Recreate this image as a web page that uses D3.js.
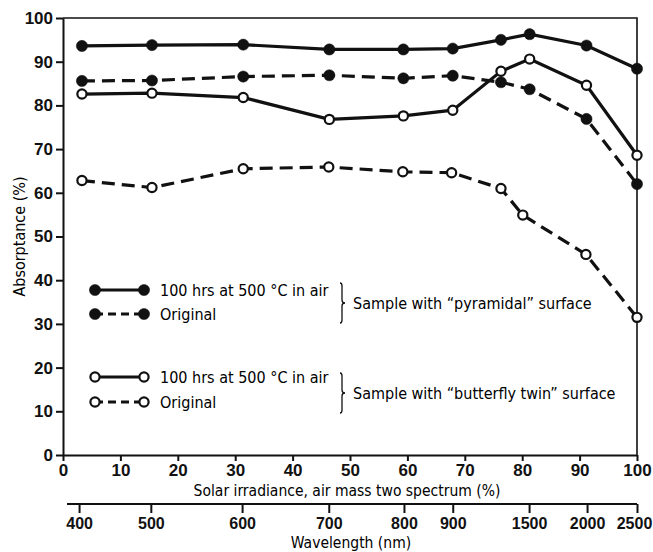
<!DOCTYPE html>
<html>
<head>
<meta charset="utf-8">
<script src="https://cdn.jsdelivr.net/npm/d3@7"></script>
<style>
  body { margin: 0; background: #fff; }
  svg { display: block; }
  .cond { font-family: "Liberation Sans Narrow", "DejaVu Sans Condensed", "Roboto Condensed", sans-serif; }
</style>
</head>
<body>
<div id="chart"></div>
<script>
// solar irradiance (%) at which each measurement sits
var solarPct = [3.3, 15.5, 31.4, 46.4, 59.3, 67.9, 76.3, 81.3, 91.2, 100];
var solarPctButterflyOrig = [3.3, 15.5, 31.4, 46.3, 59.2, 67.7, 76.3, 80.1, 91.1, 100];

// absorptance (%)
var pyramidalHeated = [93.6, 93.8, 93.9, 92.8, 92.8, 93.0, 95.0, 96.3, 93.7, 88.4];
var pyramidalOrig = [85.6, 85.7, 86.6, 86.9, 86.2, 86.8, 85.3, 83.7, 76.9, 62.0];
var butterflyHeated = [82.6, 82.8, 81.8, 76.8, 77.6, 78.9, 87.8, 90.6, 84.6, 68.6];
var butterflyOrig = [62.8, 61.2, 65.5, 65.9, 64.8, 64.6, 61.0, 54.9, 45.9, 31.5];

var yTicks = [0, 10, 20, 30, 40, 50, 60, 70, 80, 90, 100];
var xTicks = [0, 10, 20, 30, 40, 50, 60, 70, 80, 90, 100];
var wavelengthTicks = [400, 500, 600, 700, 800, 900, 1500, 2000, 2500];
var wavelengthPos = [2.8, 15.3, 31.2, 46.3, 59.4, 67.9, 81.2, 91.3, 100];

var legendGroups = [
    {label: 'Sample with \u201Cpyramidal\u201D surface', filled: true},
    {label: 'Sample with \u201Cbutterfly twin\u201D surface', filled: false}
];

var width = 653, height = 552,
    margin = {top: 18, right: 16, bottom: 97, left: 63},
    plotW = width - margin.left - margin.right,
    plotH = height - margin.top - margin.bottom;

var svg = d3.select('#chart').append('svg')
    .attr('width', width)
    .attr('height', height);

var g = svg.append('g')
    .attr('class', 'cond')
    .attr('transform', 'translate(' + margin.left + ',' + margin.top + ')');

var x = d3.scaleLinear().domain([0, 100]).range([0, plotW]);
var y = d3.scaleLinear().domain([0, 100]).range([plotH, 0]);

// frame top + right
g.append('path')
    .attr('d', 'M0,0H' + x(100) + 'V' + y(0))
    .attr('fill', 'none')
    .attr('stroke', '#111')
    .attr('stroke-width', 1.6);

var yAxis = g.append('g')
    .call(d3.axisLeft(y).tickValues(yTicks).tickSize(7).tickPadding(3).tickSizeOuter(0));
var xAxis = g.append('g')
    .attr('transform', 'translate(0,' + plotH + ')')
    .call(d3.axisBottom(x).tickValues(xTicks).tickSize(6).tickPadding(3).tickSizeOuter(0));

[yAxis, xAxis].forEach(function(ax) {
    ax.selectAll('path, line').attr('stroke', '#111').attr('stroke-width', 2);
    ax.selectAll('text')
        .attr('fill', '#111')
        .style('font-size', '17px')
        .style('font-weight', 'bold')
        .style('font-family', 'inherit');
});

// wavelength axis
var wlY = 486;
var wlAxis = g.append('g')
    .attr('transform', 'translate(0,' + wlY + ')')
    .call(d3.axisBottom(x).tickValues(wavelengthPos).tickSize(9).tickPadding(5).tickSizeOuter(0)
        .tickFormat(function(d, i) { return wavelengthTicks[i]; }));
wlAxis.select('path.domain').attr('d', 'M' + x(0.7) + ',0H' + x(100));
wlAxis.selectAll('path, line').attr('stroke', '#111').attr('stroke-width', 2);
wlAxis.selectAll('text')
    .attr('fill', '#111')
    .style('font-size', '16px')
    .style('font-weight', 'bold')
    .style('font-family', 'inherit');
// keep the last label inside the window
wlAxis.selectAll('.tick').filter(function(d, i) { return i === wavelengthPos.length - 1; })
    .select('text').attr('dx', -3);

// axis titles
g.append('text')
    .attr('x', 284).attr('y', 478)
    .attr('text-anchor', 'middle')
    .style('font-size', '15.5px')
    .text('Solar irradiance, air mass two spectrum (%)');
g.append('text')
    .attr('x', 288).attr('y', 530)
    .attr('text-anchor', 'middle')
    .style('font-size', '15.5px')
    .text('Wavelength (nm)');
g.append('text')
    .attr('transform', 'translate(-38,' + y(50) + ') rotate(-90)')
    .attr('text-anchor', 'middle')
    .style('font-size', '16px')
    .text('Absorptance (%)');

var series = [
    {xs: solarPct, ys: pyramidalHeated, filled: true, dashed: false},
    {xs: solarPct, ys: pyramidalOrig, filled: true, dashed: true},
    {xs: solarPct, ys: butterflyHeated, filled: false, dashed: false},
    {xs: solarPctButterflyOrig, ys: butterflyOrig, filled: false, dashed: true}
];

var line = d3.line()
    .x(function(d) { return x(d[0]); })
    .y(function(d) { return y(d[1]); });

series.forEach(function(s) {
    var pts = d3.zip(s.xs, s.ys);
    g.append('path')
        .datum(pts)
        .attr('d', line)
        .attr('fill', 'none')
        .attr('stroke', '#111')
        .attr('stroke-width', 3.2)
        .attr('stroke-dasharray', s.dashed ? '13,7' : null);
});

function drawMarkers(sel, s) {
    sel.attr('r', s.filled ? 5.6 : 4.6)
        .attr('fill', s.filled ? '#111' : '#fff')
        .attr('stroke', '#111')
        .attr('stroke-width', s.filled ? 0.5 : 2.2);
}

series.forEach(function(s) {
    g.append('g').selectAll('circle')
        .data(d3.zip(s.xs, s.ys))
      .enter().append('circle')
        .attr('cx', function(d) { return x(d[0]); })
        .attr('cy', function(d) { return y(d[1]); })
        .call(drawMarkers, s);
});

// legend
var legendRows = [
    {text: '100 hrs at 500 \u00B0C in air', y: 272, s: series[0]},
    {text: 'Original', y: 296, s: series[1]},
    {text: '100 hrs at 500 \u00B0C in air', y: 359, s: series[2]},
    {text: 'Original', y: 384, s: series[3]}
];

var lg = g.append('g');
legendRows.forEach(function(r) {
    var x0 = 32, x1 = 81;
    lg.append('line')
        .attr('x1', x0).attr('x2', x1)
        .attr('y1', r.y).attr('y2', r.y)
        .attr('stroke', '#111')
        .attr('stroke-width', 3)
        .attr('stroke-dasharray', r.s.dashed ? '8,5' : null);
    lg.selectAll(null)
        .data([x0, x1])
      .enter().append('circle')
        .attr('cx', function(d) { return d; })
        .attr('cy', r.y)
        .call(drawMarkers, r.s);
    lg.append('text')
        .attr('x', 97).attr('y', r.y + 6)
        .style('font-size', '16px')
        .text(r.text);
});

legendGroups.forEach(function(grp, i) {
    var top = i === 0 ? 265 : 355,
        bot = top + 40,
        mid = (top + bot) / 2,
        bx = 279;
    lg.append('path')
        .attr('d', 'M' + (bx - 2) + ',' + top + 'Q' + bx + ',' + top + ' ' + bx + ',' + (top + 3) +
            'V' + (mid - 3) + 'Q' + bx + ',' + mid + ' ' + (bx + 3) + ',' + mid +
            'Q' + bx + ',' + mid + ' ' + bx + ',' + (mid + 3) +
            'V' + (bot - 3) + 'Q' + bx + ',' + bot + ' ' + (bx - 2) + ',' + bot)
        .attr('fill', 'none')
        .attr('stroke', '#111')
        .attr('stroke-width', 1.3);
    lg.append('text')
        .attr('x', 290).attr('y', mid + 6)
        .style('font-size', '16px')
        .text(grp.label);
});
</script>
</body>
</html>
